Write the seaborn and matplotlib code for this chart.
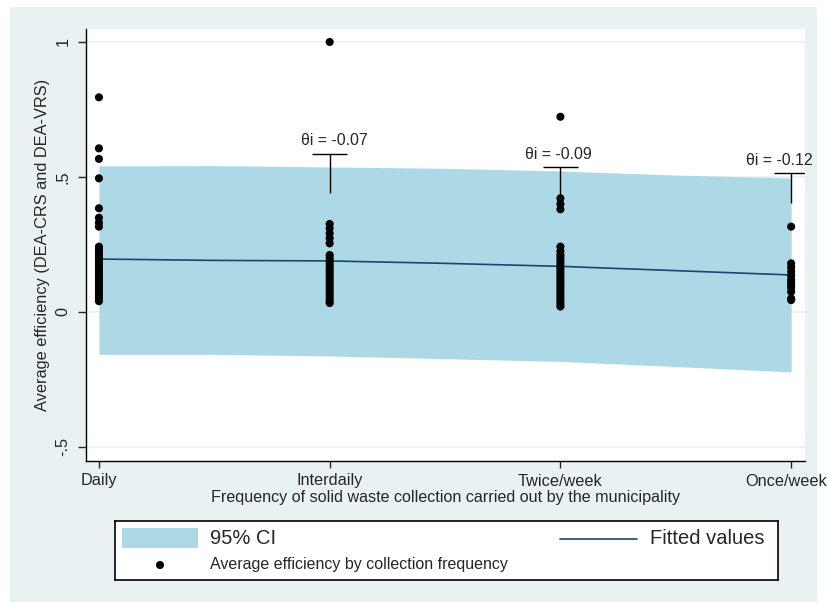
import matplotlib
matplotlib.use("Agg")
import matplotlib.pyplot as plt
from matplotlib.patches import Rectangle
from matplotlib.transforms import ScaledTranslation
import seaborn as sns
import pandas as pd

# --- data ---
freq_labels = ["Daily", "Interdaily", "Twice/week", "Once/week"]
freq_pos = [1, 2, 3, 4]

daily_eff = [0.795, 0.606, 0.567, 0.495, 0.384, 0.349, 0.331, 0.316,
             0.242, 0.23, 0.22, 0.21, 0.20, 0.19, 0.18, 0.17, 0.16, 0.15,
             0.14, 0.13, 0.12, 0.11, 0.10, 0.09, 0.08, 0.07, 0.06, 0.05, 0.04]
interdaily_eff = [1.0, 0.326, 0.310, 0.291, 0.273, 0.254,
                  0.211, 0.20, 0.19, 0.18, 0.17, 0.16, 0.15, 0.14, 0.13,
                  0.12, 0.11, 0.10, 0.09, 0.08, 0.07, 0.06, 0.05, 0.04, 0.033]
twice_eff = [0.723, 0.421, 0.400, 0.380, 0.242, 0.225,
             0.211, 0.20, 0.19, 0.18, 0.17, 0.16, 0.15, 0.14, 0.13, 0.12,
             0.11, 0.10, 0.09, 0.08, 0.07, 0.06, 0.05, 0.04, 0.03, 0.02]
once_eff = [0.316, 0.180, 0.165, 0.150, 0.135, 0.12, 0.11, 0.10, 0.09,
            0.075, 0.05, 0.044]

fit_x = [1, 1.5, 2, 2.5, 3, 3.5, 4]
fit_y = [0.196, 0.191, 0.189, 0.180, 0.169, 0.153, 0.137]
ci_upper = [0.541, 0.542, 0.537, 0.532, 0.522, 0.507, 0.496]
ci_lower = [-0.157, -0.157, -0.163, -0.173, -0.183, -0.202, -0.222]

theta_labels = ["θi = -0.07", "θi = -0.09", "θi = -0.12"]
theta_x = [2, 3, 4]
theta_top = [0.585, 0.536, 0.514]
theta_bottom = [0.440, 0.424, 0.403]
theta_text_x = [2.02, 2.99, 3.95]

y_ticks = [-0.5, 0, 0.5, 1]
y_tick_labels = ["-.5", "0", ".5", "1"]

points = pd.DataFrame({
    "freq": [1] * len(daily_eff) + [2] * len(interdaily_eff)
            + [3] * len(twice_eff) + [4] * len(once_eff),
    "eff": daily_eff + interdaily_eff + twice_eff + once_eff,
})
fit_df = pd.DataFrame({"x": fit_x, "y": fit_y})

sns.set_style("white")
plt.rcParams["font.family"] = ["Liberation Sans", "DejaVu Sans"]

bg_color = "#e9f1f3"
band_color = "#add8e6"
line_color = "#1a476f"

fig = plt.figure(figsize=(8.29, 6.03), dpi=100)
fig.patch.set_facecolor("white")
fig.patches.append(Rectangle((10 / 829, 1 / 603), 807 / 829, 595 / 603,
                             transform=fig.transFigure, facecolor=bg_color,
                             edgecolor="none", zorder=-10))

ax = fig.add_axes([86 / 829, 142 / 603, 719 / 829, 432 / 603])
ax.set_facecolor("white")

# gridlines
for yv in y_ticks:
    ax.axhline(yv, color=bg_color, lw=1.2, zorder=0)

# 95% CI band and fitted line
ax.fill_between(fit_x, ci_lower, ci_upper, color=band_color, lw=0, zorder=1)
sns.lineplot(data=fit_df, x="x", y="y", color=line_color, lw=1.2, ax=ax, zorder=2)

# scatter
sns.scatterplot(data=points, x="freq", y="eff", color="black", s=34,
                edgecolor="none", ax=ax, zorder=3)

# theta annotations (T-shaped markers)
ax.vlines(theta_x, theta_bottom, theta_top, color="black", lw=1, zorder=4)
ax.hlines(theta_top, [x - 0.075 for x in theta_x], [x + 0.075 for x in theta_x],
          color="black", lw=1, zorder=4)
for tx, ty, lab in zip(theta_text_x, theta_top, theta_labels):
    ax.annotate(lab, (tx, ty), xytext=(0, 4), textcoords="offset points",
                ha="center", va="bottom", fontsize=11.4, annotation_clip=False)

ax.set_xlim(0.944, 4.06)
ax.set_ylim(-0.552, 1.048)
ax.set_xticks(freq_pos)
ax.set_xticklabels(freq_labels, fontsize=11.7)
ax.set_yticks(y_ticks)
ax.set_yticklabels(y_tick_labels, fontsize=11.7, rotation=90, va="center")
ax.tick_params(axis="y", length=6, width=1, pad=5, direction="out", left=True)
ax.tick_params(axis="x", length=5, width=1, pad=4, direction="out", bottom=True)
ax.set_xlabel("Frequency of solid waste collection carried out by the municipality",
              fontsize=11.6, labelpad=1)
ax.set_ylabel("Average efficiency (DEA-CRS and DEA-VRS)", fontsize=11.8, labelpad=4)

for side in ["top", "right"]:
    ax.spines[side].set_visible(False)
for side in ["left", "bottom"]:
    ax.spines[side].set_color("black")
    ax.spines[side].set_linewidth(1)

# nudge the last tick label a little so it stays inside the image
last = ax.get_xticklabels()[-1]
last.set_transform(last.get_transform() + ScaledTranslation(-5 / 100, 0, fig.dpi_scale_trans))

# legend box drawn manually to match the Stata layout
lax = fig.add_axes([115 / 829, 1 - 580 / 603, 663 / 829, 59 / 603])
lax.set_xlim(115, 778)
lax.set_ylim(580, 521)
lax.set_xticks([])
lax.set_yticks([])
lax.set_facecolor("white")
for sp in lax.spines.values():
    sp.set_color("black")
    sp.set_linewidth(1.2)
lax.add_patch(Rectangle((122, 528), 76, 20, facecolor=band_color, edgecolor="none"))
lax.text(210, 539, "95% CI", fontsize=14.5, va="center", ha="left")
lax.plot([560, 637], [539, 539], color=line_color, lw=1.2)
lax.text(650, 539, "Fitted values", fontsize=14.5, va="center", ha="left")
lax.scatter([160], [565], color="black", s=34, edgecolor="none")
lax.text(210, 565, "Average efficiency by collection frequency", fontsize=11.5,
         va="center", ha="left")

fig.savefig("out.png", dpi=100, facecolor="white")
